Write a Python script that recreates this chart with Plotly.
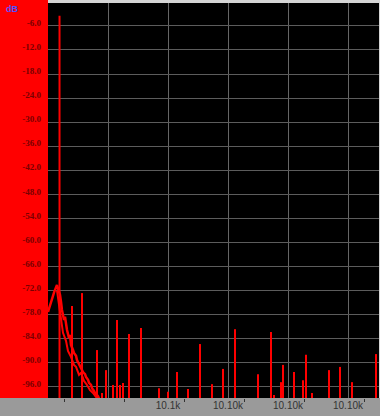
import plotly.graph_objects as go

# Frequency axis is expressed in grid divisions (one division per vertical gridline)
noise_freq = [0.0, 0.033, 0.067, 0.1, 0.117, 0.15, 0.167, 0.2, 0.217, 0.233, 0.267, 0.283,
              0.317, 0.35, 0.367, 0.383, 0.417, 0.433, 0.467, 0.483, 0.517, 0.533, 0.567,
              0.583, 0.617, 0.633, 0.667, 0.683, 0.717, 0.733, 0.767, 0.783, 0.817, 0.833,
              0.867, 0.9]
noise_db = [-77.3, -75.5, -74.3, -72.5, -71.8, -70.6, -71.5, -73.0, -74.8, -76.8, -79.3, -78.5,
            -81.8, -83.8, -83.0, -85.5, -86.8, -87.5, -88.2, -89.3, -90.3, -90.8, -91.5,
            -92.3, -92.8, -93.5, -94.2, -95.0, -95.5, -96.3, -97.0, -97.5, -98.0, -98.3,
            -99.5, -100.5]

# second, lower branch of the noise skirt
skirt_freq = [0.15, 0.183, 0.217, 0.25, 0.3, 0.333, 0.383, 0.433, 0.467, 0.517, 0.55, 0.6,
              0.65, 0.7, 0.75, 0.8, 0.85, 0.917]
skirt_db = [-72.0, -75.5, -79.0, -82.5, -84.5, -87.0, -88.5, -90.5, -91.0, -93.0, -92.5, -94.5,
            -95.5, -96.8, -97.5, -98.5, -99.0, -100.5]

fundamental_freq = 0.192
fundamental_db = -3.5

spike_freq = [0.4, 0.567, 0.817, 0.9, 0.967, 1.083, 1.15, 1.2, 1.25, 1.35, 1.55, 1.85, 2.0,
              2.15, 2.333, 2.533, 2.733, 2.917, 3.117, 3.5, 3.717, 3.767, 3.883, 3.917, 4.1,
              4.25, 4.3, 4.4, 4.683, 4.867, 5.067, 5.467]
spike_db = [-75.8, -72.6, -86.8, -97.5, -91.8, -95.5, -79.3, -95.5, -95.0, -82.8, -81.3, -96.3,
            -97.2, -92.3, -96.5, -85.3, -95.3, -91.5, -81.6, -92.8, -82.3, -98.0, -94.8, -90.5,
            -92.3, -94.3, -88.0, -97.5, -91.8, -91.0, -94.8, -87.8]

y_ticks = [-6.0 * k for k in range(1, 17)]
x_tickvals = [1, 2, 3, 4, 5]
x_ticktext = ["", "10.1k", "10.10k", "10.10k", "10.10k"]

FLOOR = -110.0
RED = "#ff0000"

# vertical line segments rising from below the visible floor
sx, sy = [], []
for f, d in zip([fundamental_freq] + spike_freq, [fundamental_db] + spike_db):
    sx += [f, f, None]
    sy += [FLOOR, d, None]

fig = go.Figure()
fig.add_trace(go.Scatter(x=noise_freq, y=noise_db, mode="lines",
                         line=dict(color=RED, width=2.5), hoverinfo="skip"))
fig.add_trace(go.Scatter(x=skirt_freq, y=skirt_db, mode="lines",
                         line=dict(color=RED, width=2), hoverinfo="skip"))
fig.add_trace(go.Scatter(x=sx, y=sy, mode="lines",
                         line=dict(color=RED, width=2), hoverinfo="skip"))

W, H = 380, 416
L, R, T, B = 48, 1, 3, 18
PW, PH = W - L - R, H - T - B

fig.update_layout(
    width=W, height=H,
    margin=dict(l=L, r=R, t=T, b=B),
    paper_bgcolor="#d4d4d4",
    plot_bgcolor="#000000",
    showlegend=False,
    xaxis=dict(
        range=[0, PW / 60.0],
        tickmode="array", tickvals=x_tickvals, ticktext=x_ticktext,
        showgrid=True, gridcolor="#666666", gridwidth=1,
        zeroline=False, ticks="", ticklen=0,
        tickfont=dict(family="Liberation Sans", size=10, color="#333333"),
        minor=dict(tick0=0.283, dtick=1, ticks="outside", ticklen=3,
                   tickcolor="#333333", tickwidth=1, showgrid=False),
        fixedrange=True,
    ),
    yaxis=dict(
        range=[-98.75, -0.3],
        tickmode="array", tickvals=y_ticks,
        ticktext=[f"<b>{v:.1f}</b>" for v in y_ticks],
        showgrid=True, gridcolor="#5c5c5c", gridwidth=1,
        zeroline=False, ticks="", ticklen=0,
        ticklabelstandoff=6, ticklabelshift=-3,
        tickfont=dict(family="Liberation Serif", size=9, color="#780000"),
        fixedrange=True,
    ),
    shapes=[
        dict(type="rect", xref="paper", yref="paper", x0=-L / PW, x1=0,
             y0=0, y1=1 + T / PH, fillcolor=RED, line=dict(width=0), layer="below"),
        dict(type="rect", xref="paper", yref="paper", x0=-L / PW, x1=1 + R / PW,
             y0=-B / PH, y1=0, fillcolor="#9a9a9a", line=dict(width=0), layer="below"),
    ],
    annotations=[
        dict(text="<b>dB</b>", xref="paper", yref="paper", x=-L / PW + 4 / PW,
             y=1 + T / PH - 2 / PH, xanchor="left", yanchor="top",
             showarrow=False, font=dict(family="Liberation Sans", size=9, color="#5050ff")),
    ],
)

fig.write_html("out.html")
